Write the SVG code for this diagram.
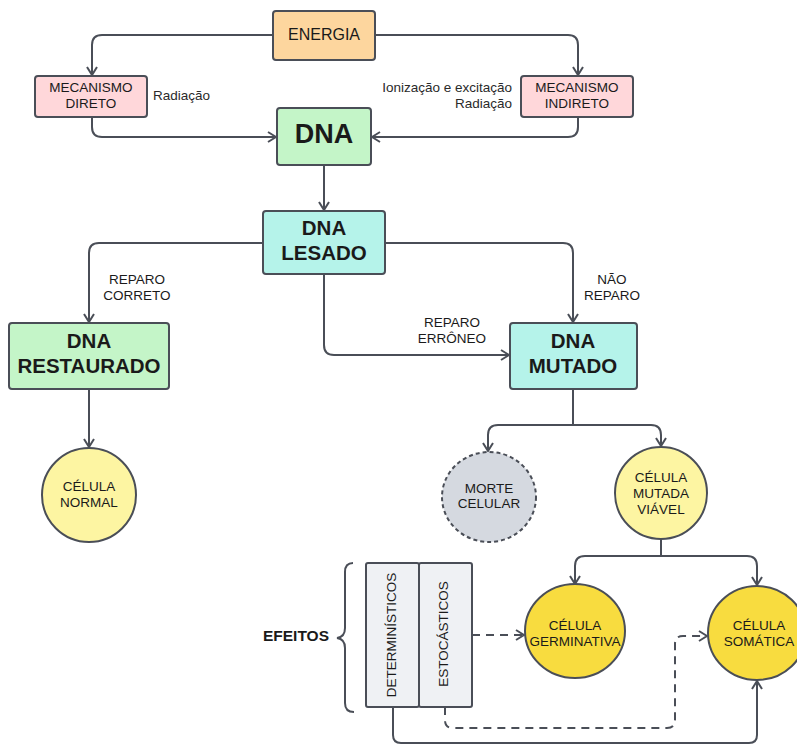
<svg xmlns="http://www.w3.org/2000/svg" width="797" height="746" viewBox="0 0 797 746">
  <style>
    .box { stroke: #4a4e57; stroke-width: 2; }
    .wire { fill: none; stroke: #4a4e57; stroke-width: 2; }
    .dash { stroke-dasharray: 8 6; }
    .t { font-family: "Liberation Sans", Arial, sans-serif; fill: #1a1a1a; text-anchor: middle; }
    .s { font-size: 13.5px; }
    .b { font-weight: bold; }
    .lbl { font-family: "Liberation Sans", Arial, sans-serif; fill: #2a2a2a; font-size: 13.5px; }
  </style>
  <defs>
    <marker id="arr" viewBox="0 0 10 12" refX="9" refY="6" markerWidth="10" markerHeight="12" markerUnits="userSpaceOnUse" orient="auto">
      <path d="M1,1 L9,6 L1,11" fill="none" stroke="#4a4e57" stroke-width="2" stroke-linejoin="miter"/>
    </marker>
  </defs>

  <rect width="797" height="746" fill="#ffffff"/>

  <!-- connectors -->
  <g id="connectors">
    <path class="wire" d="M273,35 H102 Q92,35 92,45 V75" marker-end="url(#arr)"/>
    <path class="wire" d="M375,35 H568 Q578,35 578,45 V75" marker-end="url(#arr)"/>
    <path class="wire" d="M92,117 V127 Q92,137 102,137 H276" marker-end="url(#arr)"/>
    <path class="wire" d="M578,117 V127 Q578,137 568,137 H372" marker-end="url(#arr)"/>
    <path class="wire" d="M324,165 V210" marker-end="url(#arr)"/>
    <path class="wire" d="M263,243 H99 Q89,243 89,253 V322" marker-end="url(#arr)"/>
    <path class="wire" d="M385,243 H563 Q573,243 573,253 V322" marker-end="url(#arr)"/>
    <path class="wire" d="M324,274 V345 Q324,355 334,355 H509" marker-end="url(#arr)"/>
    <path class="wire" d="M89,389 V447" marker-end="url(#arr)"/>
    <path class="wire" d="M573,389 V425"/>
    <path class="wire" d="M573,425 H498 Q488,425 488,435 V451" marker-end="url(#arr)"/>
    <path class="wire" d="M573,425 H651 Q661,425 661,435 V446" marker-end="url(#arr)"/>
    <path class="wire" d="M661,540 V556"/>
    <path class="wire" d="M661,556 H585 Q575,556 575,566 V584" marker-end="url(#arr)"/>
    <path class="wire" d="M661,556 H747 Q757,556 757,566 V585" marker-end="url(#arr)"/>
    <path class="wire dash" d="M472,635 H524" marker-end="url(#arr)"/>
    <path class="wire dash" d="M445,707 V720 Q445,728 453,728 H667 Q675,728 675,720 V644 Q675,636 683,636 H707" marker-end="url(#arr)"/>
    <path class="wire" d="M393,707 V735 Q393,743 401,743 H749 Q757,743 757,735 V681" marker-end="url(#arr)"/>
    <!-- brace -->
    <path class="wire" d="M353,563 Q345,563 345,572 V628 Q345,637 337,638 Q345,639 345,648 V703 Q345,712 354,712"/>
  </g>

  <g id="energia">
    <rect class="box" x="273" y="11" width="102" height="49" rx="3" fill="#fdd69e"/>
    <text class="t" x="324" y="40" font-size="16px">ENERGIA</text>
  </g>

  <g id="mecanismo-direto">
    <rect class="box" x="35" y="76" width="112" height="41" rx="3" fill="#ffd7da"/>
    <text class="t s" x="91" y="92">MECANISMO</text>
    <text class="t s" x="91" y="108">DIRETO</text>
  </g>
  <text class="lbl" x="153" y="100">Radiação</text>

  <g id="mecanismo-indireto">
    <rect class="box" x="521" y="76" width="112" height="41" rx="3" fill="#ffd7da"/>
    <text class="t s" x="577" y="92">MECANISMO</text>
    <text class="t s" x="577" y="108">INDIRETO</text>
  </g>
  <text class="lbl" x="512" y="92" text-anchor="end">Ionização e excitação</text>
  <text class="lbl" x="512" y="108" text-anchor="end">Radiação</text>

  <g id="dna">
    <rect class="box" x="277" y="108" width="94" height="57" rx="3" fill="#c4f5c8"/>
    <text class="t b" x="324" y="143" font-size="27px">DNA</text>
  </g>

  <g id="dna-lesado">
    <rect class="box" x="263" y="211" width="122" height="63" rx="3" fill="#b5f3ea"/>
    <text class="t b" x="324" y="235" font-size="20.5px">DNA</text>
    <text class="t b" x="324" y="260" font-size="20.5px">LESADO</text>
  </g>

  <text class="t s" x="137" y="284">REPARO</text>
  <text class="t s" x="137" y="300">CORRETO</text>
  <text class="t s" x="612" y="284">NÃO</text>
  <text class="t s" x="612" y="300">REPARO</text>
  <text class="t s" x="452" y="327">REPARO</text>
  <text class="t s" x="452" y="343">ERRÔNEO</text>

  <g id="dna-restaurado">
    <rect class="box" x="9" y="323" width="160" height="66" rx="3" fill="#c4f5c8"/>
    <text class="t b" x="89" y="348" font-size="20.5px">DNA</text>
    <text class="t b" x="89" y="373" font-size="20.5px">RESTAURADO</text>
  </g>

  <g id="dna-mutado">
    <rect class="box" x="510" y="323" width="127" height="66" rx="3" fill="#b5f3ea"/>
    <text class="t b" x="573" y="348" font-size="20.5px">DNA</text>
    <text class="t b" x="573" y="373" font-size="20.5px">MUTADO</text>
  </g>

  <g id="celula-normal">
    <circle class="box" cx="89" cy="495" r="47" fill="#fdf5a2"/>
    <text class="t s" x="89" y="491">CÉLULA</text>
    <text class="t s" x="89" y="507">NORMAL</text>
  </g>

  <g id="morte-celular">
    <ellipse class="box" cx="489" cy="497" rx="47" ry="45" fill="#d5d9e0" stroke-dasharray="4 3"/>
    <text class="t s" x="489" y="493">MORTE</text>
    <text class="t s" x="489" y="508">CELULAR</text>
  </g>

  <g id="celula-mutada-viavel">
    <circle class="box" cx="661" cy="493" r="46" fill="#fdf5a2"/>
    <text class="t s" x="661" y="482">CÉLULA</text>
    <text class="t s" x="661" y="498">MUTADA</text>
    <text class="t s" x="661" y="514">VIÁVEL</text>
  </g>

  <g id="celula-germinativa">
    <ellipse class="box" cx="575" cy="631" rx="50" ry="47" fill="#f8dc3f"/>
    <text class="t s" x="575" y="630">CÉLULA</text>
    <text class="t s" x="575" y="646">GERMINATIVA</text>
  </g>

  <g id="celula-somatica">
    <ellipse class="box" cx="757" cy="633" rx="49" ry="47" fill="#f8dc3f"/>
    <text class="t s" x="759" y="630">CÉLULA</text>
    <text class="t s" x="759" y="646">SOMÁTICA</text>
  </g>

  <g id="deterministicos">
    <rect class="box" x="366" y="563" width="53" height="144" rx="2" fill="#eff1f4"/>
    <text class="t s" transform="translate(396,635) rotate(-90)">DETERMINÍSTICOS</text>
  </g>

  <g id="estocasticos">
    <rect class="box" x="419" y="563" width="53" height="144" rx="2" fill="#eff1f4"/>
    <text class="t s" transform="translate(448,634) rotate(-90)">ESTOCÁSTICOS</text>
  </g>

  <g id="efeitos">
    <text class="t b" x="296" y="641" font-size="15.5px">EFEITOS</text>
  </g>
</svg>
